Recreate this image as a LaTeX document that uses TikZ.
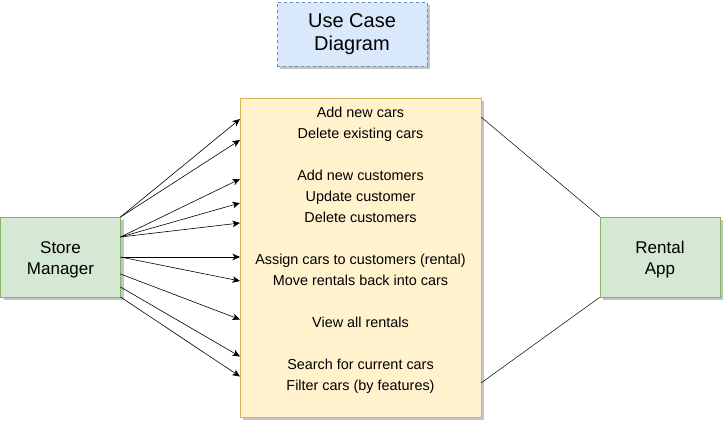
\documentclass[tikz,border=0pt]{standalone}
\usepackage{fontspec}
\setmainfont{Liberation Sans}
\usetikzlibrary{arrows.meta,shadows}
\definecolor{grfill}{HTML}{D5E8D4}
\definecolor{grline}{HTML}{82B366}
\definecolor{yefill}{HTML}{FFF2CC}
\definecolor{yeline}{HTML}{D6B656}
\definecolor{blfill}{HTML}{DAE8FC}
\definecolor{blline}{HTML}{6C8EBF}
\tikzset{
  shad/.style={drop shadow={shadow xshift=3pt,shadow yshift=-3pt,fill=black!45,opacity=0.5}},
  actor/.style={draw=grline,fill=grfill,line width=0.8pt,minimum width=120pt,minimum height=80pt,inner sep=0pt,shad},
  actortext/.style={align=center,inner sep=0pt,font=\fontsize{17}{21}\selectfont},
  casebox/.style={draw=yeline,fill=yefill,line width=0.8pt,minimum width=241pt,minimum height=319pt,inner sep=0pt,shad},
  titlebox/.style={draw=blline,fill=blfill,dashed,dash pattern=on 3pt off 3pt,line width=0.8pt,minimum width=150pt,minimum height=64pt,inner sep=0pt,align=center,font=\fontsize{20}{23}\selectfont,shad},
  cases/.style={align=center,inner sep=0pt,font=\fontsize{14.4}{21}\selectfont},
  uses/.style={-{Stealth[length=7.5pt,width=6.5pt,inset=2pt]},line width=0.6pt,black},
  link/.style={line width=0.5pt,black}
}
\begin{document}
\begin{tikzpicture}[x=1pt,y=-1pt]
\useasboundingbox (0,0) rectangle (723,421);
\node[titlebox] (title) at (352,34) {Use Case\\Diagram};
\node[casebox] (uc) at (360.5,257.5) {};
\node[cases] (txt) at (360.5,250.5) {Add new cars\\Delete existing cars\\[21pt]Add new customers\\Update customer\\Delete customers\\[21pt]Assign cars to customers (rental)\\Move rentals back into cars\\[21pt]View all rentals\\[21pt]Search for current cars\\Filter cars (by features)};
\node[actor] (sm) at (60.5,257) {};
\node[actortext] (smt) at (60.5,260) {Store\\Manager};
\node[actor] (ra) at (660,257) {};
\node[actortext] (rat) at (660,260) {Rental\\App};
% start points on Store Manager
\coordinate (s1) at (120.5,217);
\coordinate (s2) at (120.5,237);
\coordinate (s3) at (120.5,257);
\coordinate (s4) at (120.5,274);
\coordinate (s5) at (120.5,287);
\coordinate (s6) at (120.5,297);
% tips on use case box
\coordinate (t1) at (240,119);
\coordinate (t2) at (240,140);
\coordinate (t3) at (240,179);
\coordinate (t4) at (240,203);
\coordinate (t5) at (240,223);
\coordinate (t6) at (240,257);
\coordinate (t7) at (240,281);
\coordinate (t8) at (240,319.5);
\coordinate (t9) at (240,356.5);
\coordinate (t10) at (240,376.5);
\draw[uses] (s1) -- (t1);
\draw[uses] (s1) -- (t2);
\draw[uses] (s2) -- (t3);
\draw[uses] (s2) -- (t4);
\draw[uses] (s2) -- (t5);
\draw[uses] (s3) -- (t6);
\draw[uses] (s3) -- (t7);
\draw[uses] (s4) -- (t8);
\draw[uses] (s5) -- (t9);
\draw[uses] (s6) -- (t10);
% links to Rental App
\coordinate (r1) at (481,117);
\coordinate (r2) at (481,383);
\draw[link] (r1) -- (ra.north west);
\draw[link] (r2) -- (ra.south west);
\end{tikzpicture}
\end{document}
